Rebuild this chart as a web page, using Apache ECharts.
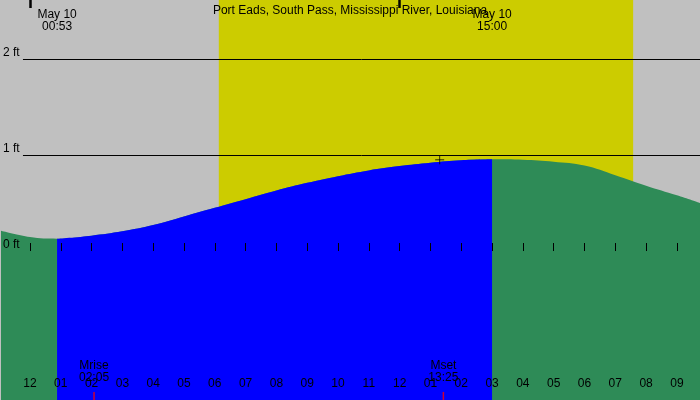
<!DOCTYPE html>
<html>
<head>
<meta charset="utf-8">
<title>Tide</title>
<script src="https://cdn.jsdelivr.net/npm/echarts@6/dist/echarts.min.js"></script>
<style>html,body{margin:0;padding:0;}#main{width:700px;height:400px;}</style>
</head>
<body>
<div id="main"></div>
<script>
// hours from midnight May 10, tide height in ft
var hours = [-0.94, 0, 0.88, 2, 3, 4, 5, 6, 7, 8, 9, 10, 11, 12, 13, 14, 15, 16, 17, 18, 19, 20, 21, 21.75];
var heights = [0.21, 0.145, 0.128, 0.16, 0.205, 0.27, 0.36, 0.45, 0.54, 0.63, 0.71, 0.78, 0.84, 0.885, 0.92, 0.945, 0.955, 0.95, 0.93, 0.89, 0.79, 0.68, 0.58, 0.50];
var lowHour = 0.88, highHour = 15;
var sunrise = 6.13, sunset = 19.58;
var moonrise = 2.08, moonset = 13.42;
var tickHours = [0,1,2,3,4,5,6,7,8,9,10,11,12,13,14,15,16,17,18,19,20,21];
var ftLabels = [0, 1, 2];

var all = hours.map(function(h, i){ return [h, heights[i]]; });
var rising = all.filter(function(p){ return p[0] >= lowHour && p[0] <= highHour; });
var font = 'Liberation Sans, Arial, sans-serif';

var chart = echarts.init(document.getElementById('main'));
chart.setOption({
	backgroundColor: '#c0c0c0',
	animation: false,
	textStyle: {fontFamily: font},
	title: {text: 'Port Eads, South Pass, Mississippi River, Louisiana', left: 'center', top: 0,
		textStyle: {fontSize: 12, fontWeight: 'normal', color: '#000', fontFamily: font}},
	grid: {left: 0, right: 0, top: 0, bottom: 0},
	xAxis: [{
		type: 'value', min: -0.94, max: 21.75,
		axisLine: {show: false}, splitLine: {show: false},
		axisTick: {show: true, inside: true, length: 8, lineStyle: {color: '#000'}, customValues: tickHours},
		axisLabel: {inside: true, margin: 10, color: '#000', fontSize: 12, fontFamily: font, customValues: tickHours,
			formatter: function(v){ var h = ((v % 12) + 12) % 12; if (h === 0) h = 12; return (h < 10 ? '0' : '') + h; }},
		z: 10
	}, {
		type: 'value', min: -0.94, max: 21.75,
		axisLine: {show: false}, splitLine: {show: false}, axisLabel: {show: false},
		axisTick: {show: true, inside: true, length: 8, lineStyle: {color: '#000', width: 2.5}, customValues: [0, 12]},
		z: 10
	}],
	yAxis: {
		type: 'value', min: -1.552, max: 2.615,
		axisLine: {show: false}, splitLine: {show: false}, axisTick: {show: false},
		axisLabel: {inside: true, margin: 2, color: '#000', fontSize: 12, fontFamily: font, customValues: ftLabels,
			formatter: '{value} ft', verticalAlign: 'bottom'},
		z: 10
	},
	series: [{
		type: 'line', data: all, smooth: 0.4, symbol: 'none',
		lineStyle: {width: 0}, areaStyle: {color: '#2e8b57', opacity: 1, origin: 'start'},
		markArea: {silent: true, itemStyle: {color: '#cccc00'}, data: [[{xAxis: sunrise}, {xAxis: sunset}]]},
		z: 2
	}, {
		type: 'line', data: rising, smooth: 0.4, symbol: 'none',
		lineStyle: {width: 0}, areaStyle: {color: '#0000ff', opacity: 1, origin: 'start'},
		markLine: {silent: true, symbol: 'none', label: {show: false}, lineStyle: {color: '#000', width: 1, type: 'solid'},
			data: [[{coord: [-0.227, 1]}, {coord: [21.75, 1]}], [{coord: [-0.227, 2]}, {coord: [21.75, 2]}]]},
		z: 3
	}, {
		type: 'scatter', data: [[13.3, 0.95]], symbol: 'path://M0,5L10,5M5,0L5,10', symbolSize: 9,
		itemStyle: {color: 'none', borderColor: '#000', borderWidth: 1}, z: 5
	}, {
		type: 'scatter', data: [[moonrise, -1.51], [moonset, -1.51]], symbol: 'rect', symbolSize: [1.5, 8],
		itemStyle: {color: '#ff0000'}, z: 11
	}]
});

function txt(h, ft, lines){
	var p = chart.convertToPixel({gridIndex: 0}, [h, ft]);
	return {type: 'text', x: p[0], y: p[1], z: 20,
		style: {text: lines, fill: '#000', font: '12px ' + font, align: 'center', lineHeight: 12, verticalAlign: 'top'}};
}
chart.setOption({graphic: [
	txt(lowHour, 2.52, 'May 10\n00:53'),
	txt(highHour, 2.52, 'May 10\n15:00'),
	txt(moonrise, -1.13, 'Mrise\n02:05'),
	txt(moonset, -1.13, 'Mset\n13:25')
]});
</script>
</body>
</html>
